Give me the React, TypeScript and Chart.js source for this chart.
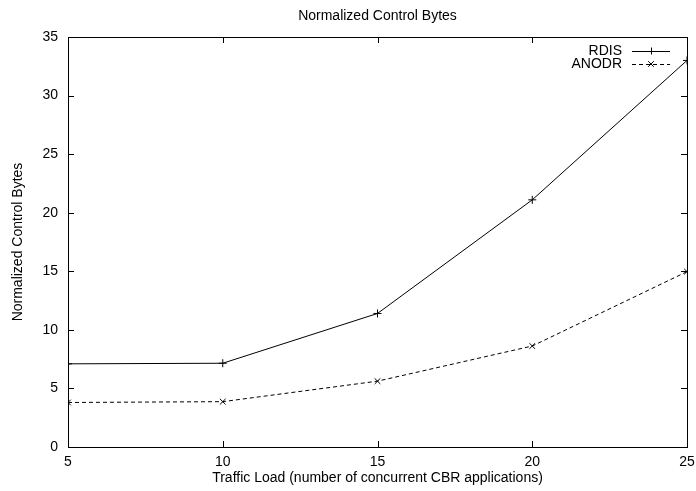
import React, { useEffect, useRef } from "react";
import { Chart, registerables } from "chart.js";

Chart.register(...registerables);

const categories = [5, 10, 15, 20, 25];
const rdisValues = [7.1, 7.15, 11.4, 21.1, 33.0];
const anodrValues = [3.8, 3.87, 5.62, 8.62, 14.97];
const yTicks = [0, 5, 10, 15, 20, 25, 30, 35];
const xTicks = [5, 10, 15, 20, 25];
const titleText = "Normalized Control Bytes";
const xTitle = "Traffic Load (number of concurrent CBR applications)";
const yTitle = "Normalized Control Bytes";
const seriesNames = ["RDIS", "ANODR"];

const FONT = '"Liberation Sans", Arial, sans-serif';
const FS = 14;

const decorPlugin = {
  id: "gnuplotDecor",
  afterDraw(chart: any) {
    const ctx = chart.ctx;
    const area = chart.chartArea;
    const xs = chart.scales.x;
    const ys = chart.scales.y;
    ctx.save();
    ctx.strokeStyle = "#000";
    ctx.lineWidth = 1;
    ctx.strokeRect(Math.round(area.left) + 0.5, Math.round(area.top) + 0.5, Math.round(area.right - area.left), Math.round(area.bottom - area.top));
    const tl = 6;
    ctx.beginPath();
    for (const v of yTicks) {
      const py = Math.round(ys.getPixelForValue(v)) + 0.5;
      ctx.moveTo(area.left, py);
      ctx.lineTo(area.left + tl, py);
      ctx.moveTo(area.right, py);
      ctx.lineTo(area.right - tl, py);
    }
    for (const v of xTicks) {
      const px = Math.round(xs.getPixelForValue(v)) + 0.5;
      ctx.moveTo(px, area.bottom);
      ctx.lineTo(px, area.bottom - tl);
      ctx.moveTo(px, area.top);
      ctx.lineTo(px, area.top + tl);
    }
    ctx.stroke();

    ctx.fillStyle = "#000";
    ctx.font = `${FS}px ${FONT}`;
    ctx.textAlign = "center";
    ctx.textBaseline = "middle";
    const cx = (area.left + area.right) / 2;
    ctx.fillText(titleText, cx, 16);
    ctx.fillText(xTitle, cx, 478);
    ctx.save();
    ctx.translate(18, (area.top + area.bottom) / 2);
    ctx.rotate(-Math.PI / 2);
    ctx.fillText(yTitle, 0, 0);
    ctx.restore();

    const rows = [
      { name: seriesNames[0], y: 51, dash: [] as number[], style: "cross" },
      { name: seriesNames[1], y: 64, dash: [4, 3], style: "crossRot" },
    ];
    const textRight = 622;
    const lx0 = 632;
    const lx1 = 670;
    for (const r of rows) {
      ctx.textAlign = "right";
      ctx.fillText(r.name, textRight, r.y);
      ctx.beginPath();
      ctx.setLineDash(r.dash);
      ctx.moveTo(lx0, r.y + 0.5);
      ctx.lineTo(lx1, r.y + 0.5);
      ctx.stroke();
      ctx.setLineDash([]);
      const mx = (lx0 + lx1) / 2;
      const s = 3.5;
      ctx.beginPath();
      if (r.style === "cross") {
        ctx.moveTo(mx - s, r.y + 0.5);
        ctx.lineTo(mx + s, r.y + 0.5);
        ctx.moveTo(mx + 0.5, r.y - s);
        ctx.lineTo(mx + 0.5, r.y + s);
      } else {
        ctx.moveTo(mx - s * 0.8, r.y - s * 0.8);
        ctx.lineTo(mx + s * 0.8, r.y + s * 0.8);
        ctx.moveTo(mx + s * 0.8, r.y - s * 0.8);
        ctx.lineTo(mx - s * 0.8, r.y + s * 0.8);
      }
      ctx.stroke();
    }
    ctx.restore();
  },
};

export default function App() {
  const ref = useRef<HTMLCanvasElement | null>(null);
  useEffect(() => {
    document.body.style.margin = "0";
    const canvas = ref.current!;
    const chart = new Chart(canvas, {
      type: "line",
      data: {
        datasets: [
          {
            label: seriesNames[0],
            data: categories.map((x, i) => ({ x, y: rdisValues[i] })),
            borderColor: "#000",
            backgroundColor: "#000",
            borderWidth: 1,
            pointStyle: "cross",
            pointRadius: 4,
            pointBorderWidth: 1,
            pointBorderColor: "#000",
            tension: 0,
            fill: false,
          },
          {
            label: seriesNames[1],
            data: categories.map((x, i) => ({ x, y: anodrValues[i] })),
            borderColor: "#000",
            backgroundColor: "#000",
            borderWidth: 1,
            borderDash: [4, 3],
            pointStyle: "crossRot",
            pointRadius: 4,
            pointBorderWidth: 1,
            pointBorderColor: "#000",
            tension: 0,
            fill: false,
          },
        ],
      },
      options: {
        responsive: false,
        animation: false,
        devicePixelRatio: 1,
        layout: { padding: { top: 37, left: 0, right: 9, bottom: 0 } },
        plugins: {
          legend: { display: false },
          title: { display: false },
          tooltip: { enabled: false },
        },
        scales: {
          x: {
            type: "linear",
            min: 5,
            max: 25,
            afterBuildTicks: (s: any) => {
              s.ticks = xTicks.map((v) => ({ value: v }));
            },
            afterFit: (s: any) => {
              s.height = 44;
              s.paddingLeft = 0;
              s.paddingRight = 0;
            },
            grid: { display: false, drawTicks: false },
            border: { display: false },
            ticks: {
              color: "#000",
              font: { family: FONT, size: FS },
              padding: 7,
              maxRotation: 0,
              autoSkip: false,
            },
          },
          y: {
            type: "linear",
            min: 0,
            max: 35,
            afterBuildTicks: (s: any) => {
              s.ticks = yTicks.map((v) => ({ value: v }));
            },
            afterFit: (s: any) => {
              s.width = 68;
              s.paddingTop = 0;
              s.paddingBottom = 0;
            },
            grid: { display: false, drawTicks: false },
            border: { display: false },
            ticks: {
              color: "#000",
              font: { family: FONT, size: FS },
              padding: 10,
              autoSkip: false,
            },
          },
        },
      },
      plugins: [decorPlugin],
    } as any);
    return () => chart.destroy();
  }, []);
  return <canvas ref={ref} width={696} height={491} style={{ display: "block" }} />;
}
